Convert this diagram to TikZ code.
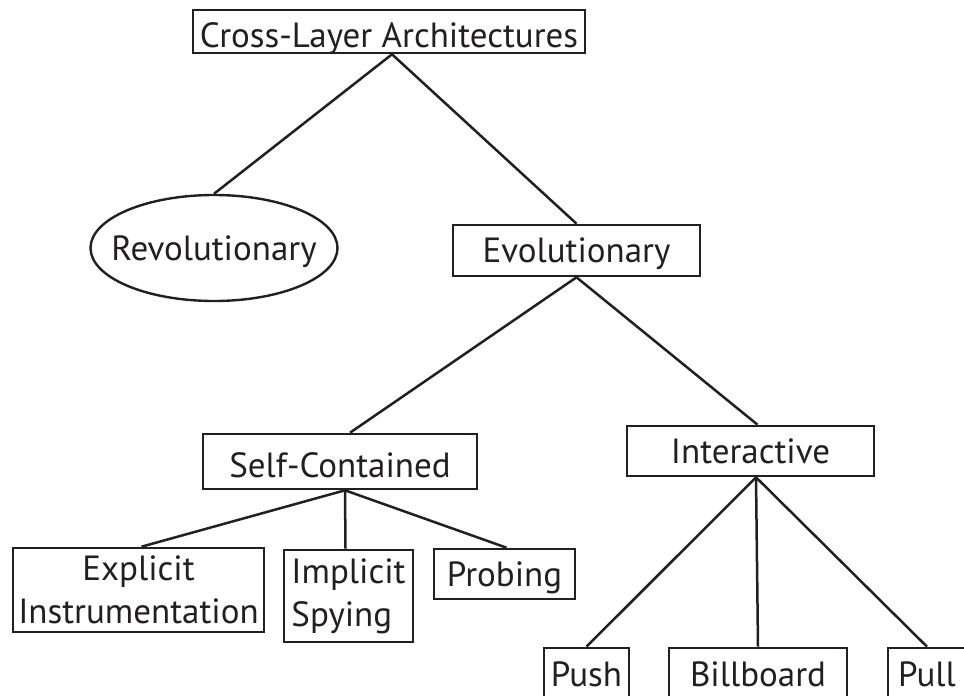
\documentclass[tikz,border=0pt]{standalone}
\usepackage{fontspec}
\setmainfont{PT Sans}
\usetikzlibrary{shapes.geometric}
\definecolor{ink}{HTML}{231F20}
\tikzset{
  base/.style={draw=ink, line width=2.6pt, text=ink, inner sep=0pt,
    font=\fontsize{35}{43}\selectfont},
  box/.style={base, rectangle},
  oneline/.style={text height=24pt, text depth=0pt},
  oval/.style={draw=ink, line width=2.4pt, ellipse, inner sep=0pt},
  caption/.style={text=ink, inner sep=0pt, oneline,
    font=\fontsize{35}{43}\selectfont},
  link/.style={draw=ink, line width=2.5pt}
}
\begin{document}
\begin{tikzpicture}[x=1pt, y=-1pt]
\useasboundingbox (0,0) rectangle (964,696);
\clip (0,0) rectangle (964,696);

% top level
\node[box, text height=31pt, text depth=0pt, minimum width=392pt, minimum height=43pt]
  (root) at (389,31.5) {Cross-Layer Architectures};

% second level
\node[oval, minimum width=247pt, minimum height=106pt] (revo) at (214,248) {};
\node[caption] (revoText) at (revo.center) {Revolutionary};
\node[box, oneline, minimum width=247pt, minimum height=51pt]
  (evo) at (576.5,250.5) {Evolutionary};

% third level
\node[box, text height=31pt, text depth=0pt, minimum width=274pt, minimum height=55pt]
  (self) at (340,461.5) {Self-Contained};
\node[box, oneline, minimum width=247pt, minimum height=50pt]
  (inter) at (750.5,451) {Interactive};

% self-contained leaves
\node[box, align=center, minimum width=251pt, minimum height=84pt]
  (expl) at (138.5,590) {Explicit\\Instrumentation};
\node[box, align=left, minimum width=129pt, minimum height=92pt]
  (impl) at (348.5,596) {Implicit\\Spying};
\node[box, oneline, minimum width=141pt, minimum height=50pt]
  (probe) at (504.5,574) {Probing};

% interactive leaves (run past the lower edge)
\node[box, oneline, minimum width=85pt, minimum height=52pt]
  (push) at (586.5,674) {Push};
\node[box, oneline, minimum width=178pt, minimum height=52pt]
  (bill) at (758,674) {Billboard};
\node[box, oneline, minimum width=78pt, minimum height=52pt]
  (pull) at (927,674) {Pull};

% connectors
\coordinate (rootJ) at ([xshift=3pt]root.south);
\draw[link] (rootJ) -- (revo.north);
\draw[link] (rootJ) -- (evo.north);

\draw[link] (evo.south) -- ([xshift=10pt]self.north);
\draw[link] (evo.south) -- ([xshift=7pt]inter.north);

\coordinate (selfJ) at ([xshift=5pt]self.south);
\draw[link] (selfJ) -- ([xshift=3pt]expl.north);
\draw[link] (selfJ) -- ([xshift=-3pt]impl.north);
\draw[link] (selfJ) -- ([xshift=2pt]probe.north);

\coordinate (interJ) at ([xshift=5.5pt]inter.south);
\draw[link] (interJ) -- (push.north);
\draw[link] (interJ) -- (bill.north);
\draw[link] (interJ) -- (pull.north);
\end{tikzpicture}
\end{document}
